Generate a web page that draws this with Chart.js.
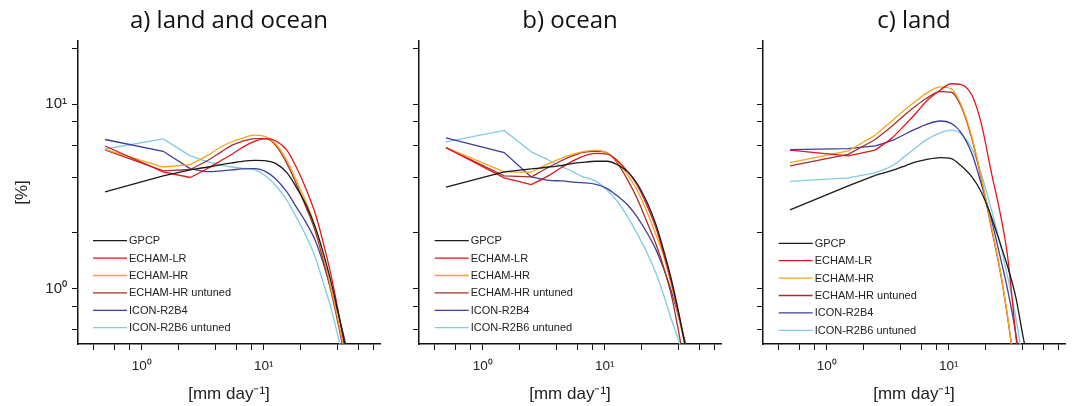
<!DOCTYPE html>
<html lang="en">
<head>
  <meta charset="UTF-8">
  <title>Precipitation intensity distribution</title>
  <script src="https://cdn.jsdelivr.net/npm/chart.js"></script>
  <style>
    body {
      margin: 0;
      background: #fff;
      width: 1074px;
      height: 406px;
      position: relative;
      overflow: hidden;
    }
    canvas {
      position: absolute;
      top: 0;
    }
  </style>
</head>
<body>
  <canvas id="panelA" width="386" height="406" style="left:0px"></canvas>
  <canvas id="panelB" width="386" height="406" style="left:341px"></canvas>
  <canvas id="panelC" width="386" height="406" style="left:685px"></canvas>

  <script>
    // bin centres [mm/day]
    const bins = [0.5, 1.5, 2.5, 3.5, 4.5, 5.5, 6.5, 8.5, 10.5, 12.5, 15.5, 18.5, 22.5, 26.5, 30.5, 35.5, 40.5, 45.5, 50.5];

    const xTicks = [0.4, 0.6, 0.8, 1, 2, 4, 6, 8, 10, 20, 40, 60, 80];
    const yTicks = [0.6, 0.8, 1, 2, 4, 6, 8, 10, 20];

    const seriesNames = ['GPCP', 'ECHAM-LR', 'ECHAM-HR', 'ECHAM-HR untuned', 'ICON-R2B4', 'ICON-R2B6 untuned'];

    // a) land and ocean  [%]
    const aGPCP = [3.34, 4.08, 4.40, 4.56, 4.70, 4.80, 4.88, 4.95, 4.92, 4.77, 4.25, 3.55, 2.80, 2.15, 1.60, 1.10, 0.76, 0.53, 0.36];
    const aLR   = [5.93, 4.29, 4.00, 4.49, 4.96, 5.35, 5.75, 6.30, 6.50, 6.33, 5.63, 4.56, 3.41, 2.55, 1.82, 1.20, 0.78, 0.51, 0.34];
    const aHR   = [5.69, 4.56, 4.70, 5.29, 5.87, 6.25, 6.50, 6.79, 6.64, 6.12, 4.96, 3.86, 2.90, 2.15, 1.54, 1.02, 0.69, 0.47, 0.32];
    const aHRu  = [5.65, 4.34, 4.42, 4.96, 5.51, 5.99, 6.25, 6.50, 6.50, 5.99, 4.77, 3.70, 2.71, 2.05, 1.46, 0.98, 0.66, 0.45, 0.30];
    const aB4   = [6.43, 5.55, 4.47, 4.30, 4.35, 4.40, 4.45, 4.47, 4.29, 3.94, 3.34, 2.77, 2.25, 1.82, 1.40, 1.00, 0.74, 0.55, 0.40];
    const aB6   = [5.71, 6.48, 5.24, 4.86, 4.66, 4.56, 4.50, 4.40, 4.05, 3.63, 3.01, 2.44, 1.90, 1.48, 1.10, 0.79, 0.56, 0.40, 0.28];

    // b) ocean
    const bGPCP = [3.55, 4.29, 4.45, 4.56, 4.66, 4.77, 4.83, 4.90, 4.90, 4.72, 4.29, 3.70, 2.89, 2.20, 1.61, 1.10, 0.74, 0.50, 0.34];
    const bLR   = [5.81, 3.98, 3.66, 4.11, 4.56, 4.92, 5.18, 5.40, 5.35, 5.00, 4.29, 3.63, 2.77, 2.11, 1.54, 1.06, 0.72, 0.50, 0.34];
    const bHR   = [5.81, 4.29, 4.27, 4.77, 5.11, 5.35, 5.51, 5.63, 5.45, 4.96, 4.11, 3.41, 2.55, 1.94, 1.50, 1.02, 0.70, 0.49, 0.33];
    const bHRu  = [5.80, 4.08, 4.03, 4.56, 4.96, 5.25, 5.45, 5.55, 5.45, 4.86, 3.86, 3.07, 2.25, 1.72, 1.30, 0.90, 0.58, 0.38, 0.26];
    const bB4   = [6.57, 5.46, 4.03, 3.86, 3.83, 3.78, 3.75, 3.67, 3.48, 3.20, 2.83, 2.44, 1.98, 1.61, 1.28, 0.95, 0.70, 0.52, 0.38];
    const bB6   = [6.24, 7.20, 5.51, 4.96, 4.56, 4.29, 4.06, 3.81, 3.41, 3.01, 2.44, 1.98, 1.54, 1.20, 0.92, 0.67, 0.52, 0.38, 0.27];

    // c) land
    const cGPCP = [2.67, 3.60, 4.11, 4.38, 4.66, 4.87, 5.00, 5.13, 5.07, 4.66, 4.03, 3.34, 2.43, 1.75, 1.31, 0.90, 0.56, 0.38, 0.26];
    const cLR   = [5.63, 5.24, 5.63, 6.64, 7.86, 9.07, 10.3, 11.9, 12.9, 12.8, 11.2, 7.86, 4.20, 2.55, 1.48, 0.56, 0.25, 0.12, 0.08];
    const cHR   = [4.82, 5.57, 6.79, 8.21, 9.47, 10.5, 11.4, 12.4, 12.1, 10.1, 6.64, 4.03, 2.15, 1.25, 0.70, 0.33, 0.15, 0.08, 0.05];
    const cHRu  = [4.62, 5.34, 6.43, 7.69, 8.90, 9.90, 10.7, 11.7, 11.6, 9.90, 6.50, 3.95, 2.10, 1.23, 0.69, 0.33, 0.15, 0.08, 0.05];
    const cB4   = [5.67, 5.73, 5.94, 6.38, 6.93, 7.38, 7.74, 8.10, 7.86, 7.08, 5.40, 3.70, 2.34, 1.48, 0.98, 0.57, 0.30, 0.15, 0.08];
    const cB6   = [3.81, 3.98, 4.24, 4.66, 5.29, 5.87, 6.38, 6.98, 7.23, 6.93, 5.74, 4.20, 2.65, 1.75, 1.15, 0.70, 0.40, 0.22, 0.12];

    const lineColors = ['#1a1a1a', '#e3141b', '#f7a51c', '#a3302f', '#3e3e9c', '#7fcbe0'];

    // first bins are joined by straight lines, the rest of the curve is smooth
    const KINK = 2;

    // legend drawn inside the plot, lower left (only the first six datasets)
    const insideLegend = {
      id: 'insideLegend',
      afterDatasetsDraw(chart, args, opts) {
        const { ctx, chartArea } = chart;
        ctx.save();
        ctx.font = '11px "Liberation Sans", Arial, sans-serif';
        ctx.textBaseline = 'middle';
        ctx.textAlign = 'left';
        chart.data.datasets.slice(0, seriesNames.length).forEach((ds, i) => {
          const x = chartArea.left + opts.left;
          const y = chartArea.top + opts.top + i * opts.gap;
          ctx.strokeStyle = ds.borderColor;
          ctx.lineWidth = 1.3;
          ctx.beginPath();
          ctx.moveTo(x, y);
          ctx.lineTo(x + 34, y);
          ctx.stroke();
          ctx.fillStyle = '#222';
          ctx.fillText(ds.label, x + 36, y + 0.5);
        });
        ctx.restore();
      }
    };

    function makePanel(id, title, series, withYLabels, legendTop, legendLeft) {
      const pts = vals => bins.map((b, j) => ({ x: b, y: vals[j] }));
      const heads = series.map((vals, i) => ({
        label: seriesNames[i],
        data: pts(vals).slice(0, KINK + 1),
        borderColor: lineColors[i],
        borderWidth: 1.3,
        pointRadius: 0,
        tension: 0,
        fill: false
      }));
      const tails = series.map((vals, i) => ({
        label: seriesNames[i] + ' (tail)',
        data: pts(vals).slice(KINK),
        borderColor: lineColors[i],
        borderWidth: 1.3,
        pointRadius: 0,
        cubicInterpolationMode: 'monotone',
        fill: false
      }));

      const ctx = document.getElementById(id).getContext('2d');
      return new Chart(ctx, {
        type: 'line',
        data: { datasets: heads.concat(tails) },
        options: {
          responsive: false,
          animation: false,
          layout: { padding: { left: 0, right: 6, top: 0, bottom: 0 } },
          plugins: {
            legend: { display: false },
            tooltip: { enabled: false },
            title: {
              display: true,
              text: title,
              fullSize: false,
              color: '#111',
              font: { family: '"Open Sans", sans-serif', size: 24, weight: 'normal', lineHeight: 1.2 },
              padding: { top: 7, bottom: 5.2 }
            },
            insideLegend: { left: legendLeft, top: legendTop, gap: 17.4 }
          },
          scales: {
            x: {
              type: 'logarithmic',
              position: 'bottom',
              min: 0.3,
              max: 90,
              border: { display: true, color: '#111', width: 1.5 },
              grid: { drawOnChartArea: false, drawTicks: true, tickLength: 6, tickColor: '#111', tickWidth: 1 },
              afterBuildTicks: s => { s.ticks = xTicks.map(v => ({ value: v })); },
              afterFit: s => { s.height = 62; },
              ticks: {
                autoSkip: false,
                maxRotation: 0,
                padding: 8,
                color: '#222',
                font: { family: '"Liberation Sans", Arial, sans-serif', size: 13.5 },
                callback: v => v === 1 ? '10\u2070' : (v === 10 ? '10\u00B9' : '')
              },
              title: {
                display: true,
                text: '[mm day\u207B\u00B9]',
                color: '#222',
                font: { family: '"Liberation Sans", Arial, sans-serif', size: 17 },
                padding: { top: 0, bottom: 1 }
              }
            },
            y: {
              type: 'logarithmic',
              position: 'left',
              min: 0.5,
              max: 22,
              border: { display: true, color: '#111', width: 1.5 },
              grid: { drawOnChartArea: false, drawTicks: true, tickLength: 6, tickColor: '#111', tickWidth: 1 },
              afterBuildTicks: s => { s.ticks = yTicks.map(v => ({ value: v })); },
              afterFit: s => { s.width = 78; },
              ticks: {
                autoSkip: false,
                padding: 5,
                color: '#222',
                font: { family: '"Liberation Sans", Arial, sans-serif', size: 15 },
                callback: v => withYLabels ? (v === 1 ? '10\u2070' : (v === 10 ? '10\u00B9' : '')) : ''
              },
              title: {
                display: withYLabels,
                text: '[%]',
                color: '#222',
                font: { family: '"Liberation Sans", Arial, sans-serif', size: 17 },
                padding: { top: 12, bottom: 0 }
              }
            }
          }
        },
        plugins: [insideLegend]
      });
    }

    makePanel('panelA', 'a) land and ocean', [aGPCP, aLR, aHR, aHRu, aB4, aB6], true, 199.7, 15);
    makePanel('panelB', 'b) ocean', [bGPCP, bLR, bHR, bHRu, bB4, bB6], false, 199.7, 15.7);
    makePanel('panelC', 'c) land', [cGPCP, cLR, cHR, cHRu, cB4, cB6], false, 202.3, 15.7);
  </script>
</body>
</html>
